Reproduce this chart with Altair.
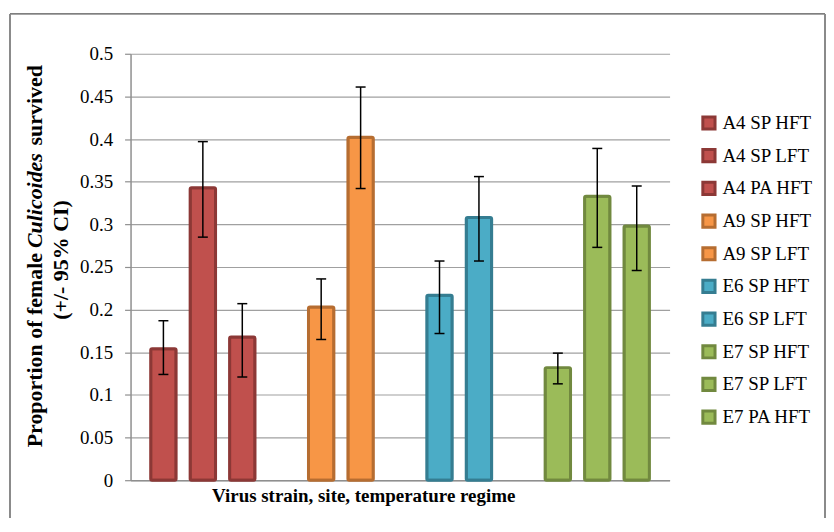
import altair as alt
import pandas as pd

# ---- data ----
groups = ["A4", "A4", "A4", "A9", "A9", "E6", "E6", "E7", "E7", "E7"]
labels = ["A4 SP HFT", "A4 SP LFT", "A4 PA HFT", "A9 SP HFT", "A9 SP LFT",
          "E6 SP HFT", "E6 SP LFT", "E7 SP HFT", "E7 SP LFT", "E7 PA HFT"]
values = [0.154, 0.343, 0.168, 0.203, 0.402, 0.217, 0.308, 0.132, 0.333, 0.298]
lower = [0.124, 0.285, 0.121, 0.165, 0.342, 0.172, 0.257, 0.113, 0.273, 0.246]
upper = [0.187, 0.397, 0.207, 0.236, 0.461, 0.257, 0.356, 0.149, 0.389, 0.345]
y_ticks = [0, 0.05, 0.1, 0.15, 0.2, 0.25, 0.3, 0.35, 0.4, 0.45, 0.5]

fill_by_group = {"A4": "#C0504D", "A9": "#F79646", "E6": "#4BACC6", "E7": "#9BBB59"}
stroke_by_group = {"A4": "#8C3836", "A9": "#B66D31", "E6": "#357D91", "E7": "#71893F"}

df = pd.DataFrame({"label": labels, "group": groups, "value": values,
                   "lower": lower, "upper": upper})

# x domain: categories with an empty slot between strains
x_domain = []
for i, lab in enumerate(labels):
    if i > 0 and groups[i] != groups[i - 1]:
        x_domain.append("gap" + str(i))
    x_domain.append(lab)

fills = [fill_by_group[g] for g in groups]
strokes = [stroke_by_group[g] for g in groups]

W, H = 541, 428
FONT = "Liberation Serif"

xscale = alt.Scale(domain=x_domain, paddingInner=0.356, paddingOuter=0.511)
yscale = alt.Scale(domain=[0, 0.5], nice=False, zero=True)

x_axis = alt.Axis(labels=False, ticks=False, title=None, domain=True,
                  domainColor="#8f8f8f", domainWidth=1.5, grid=False)
y_axis = alt.Axis(values=y_ticks, format=".2~f", title=None,
                  grid=True, gridColor="#a0a0a0", gridWidth=1.2,
                  domainColor="#8f8f8f", domainWidth=1.5,
                  tickColor="#8f8f8f", tickSize=6, tickWidth=1.2,
                  labelFont=FONT, labelFontSize=19, labelColor="black",
                  labelPadding=12)

legend = alt.Legend(orient="none", legendX=571, legendY=60, title=None,
                    symbolType="square", symbolSize=150, symbolStrokeWidth=3,
                    symbolOpacity=1, labelFont=FONT, labelFontSize=19,
                    labelColor="black", rowPadding=7.8, labelOffset=4,
                    labelLimit=200)

X = alt.X("label:N", scale=xscale, sort=x_domain, axis=x_axis)

bars = alt.Chart(df).mark_bar(strokeWidth=3, cornerRadius=1.5, strokeJoin="round").encode(
    x=X,
    y=alt.Y("value:Q", scale=yscale, axis=y_axis),
    fill=alt.Fill("label:N", scale=alt.Scale(domain=labels, range=fills), legend=legend),
    stroke=alt.Stroke("label:N", scale=alt.Scale(domain=labels, range=strokes), legend=legend),
)

err = alt.Chart(df).mark_rule(color="black", strokeWidth=1.5).encode(
    x=X,
    y=alt.Y("lower:Q", scale=yscale, axis=y_axis),
    y2="upper:Q",
)
cap_lo = alt.Chart(df).mark_tick(color="black", size=10, thickness=1.5, opacity=1).encode(
    x=X,
    y=alt.Y("lower:Q", scale=yscale, axis=y_axis),
)
cap_hi = alt.Chart(df).mark_tick(color="black", size=10, thickness=1.5, opacity=1).encode(
    x=X,
    y=alt.Y("upper:Q", scale=yscale, axis=y_axis),
)

one = pd.DataFrame({"t": [""]})

# frame around the whole figure
frame_top = alt.Chart(one).mark_rule(color="#262626", strokeWidth=1).encode(
    x=alt.value(-121), x2=alt.value(697), y=alt.value(-40))
frame_left = alt.Chart(one).mark_rule(color="#8a8a8a", strokeWidth=2).encode(
    x=alt.value(-121), y=alt.value(-40), y2=alt.value(466))
frame_right = alt.Chart(one).mark_rule(color="#8a8a8a", strokeWidth=2).encode(
    x=alt.value(697), y=alt.value(-40), y2=alt.value(466))

def txt(s, x, y, size, align="center", angle=0, style="normal"):
    return alt.Chart(pd.DataFrame({"t": [s]})).mark_text(
        font=FONT, fontSize=size, fontWeight="bold", fontStyle=style,
        align=align, baseline="middle", angle=angle, color="black").encode(
        text="t:N", x=alt.value(x), y=alt.value(y))

ytitle_1a = txt("Proportion of female", -96, 395, 22, align="left", angle=270)
ytitle_1b = txt("Culicoides", -96, 195, 22, align="left", angle=270, style="italic")
ytitle_1c = txt("survived", -96, 92, 22, align="left", angle=270)
ytitle_2 = txt("(+/- 95% CI)", -70, 207, 22, align="center", angle=270)
xtitle = txt("Virus strain, site, temperature regime", 234, 444, 19)

chart = alt.layer(
    frame_top, frame_left, frame_right,
    bars, err, cap_lo, cap_hi,
    ytitle_1a, ytitle_1b, ytitle_1c, ytitle_2, xtitle,
).properties(
    width=W, height=H,
    padding={"left": 1, "top": 4, "right": 0, "bottom": 0},
    background="white",
).configure_view(stroke=None)

chart.save("out.html", embed_options={"renderer": "svg", "actions": False})
